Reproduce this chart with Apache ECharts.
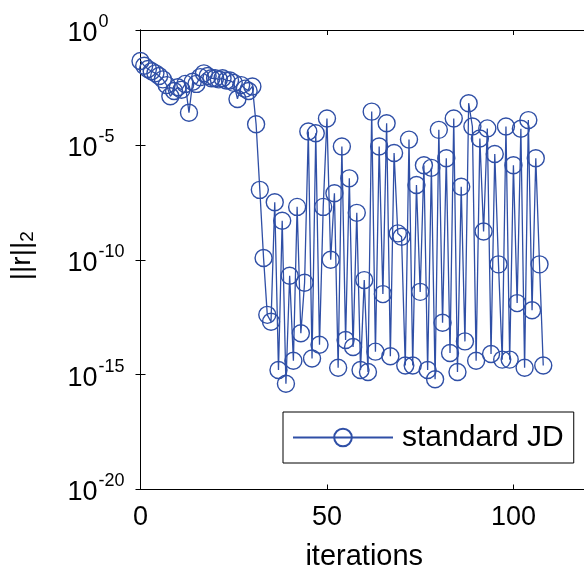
<!DOCTYPE html>
<html>
<head>
<meta charset="utf-8">
<script src="https://cdn.jsdelivr.net/npm/echarts@6/dist/echarts.min.js"></script>
<style>
html,body{margin:0;padding:0;background:#fff;}
#chart{width:584px;height:569px;}
</style>
</head>
<body>
<div id="chart"></div>
<script>
// iteration index
var iterations = [];
for (var k = 0; k <= 108; k++) iterations.push(k);
// residual norm ||r||_2 per iteration
var residual = [
  4.5e-2, 2.8e-2, 2.0e-2, 1.6e-2, 1.3e-2, 1.0e-2, 7.1e-3, 4.0e-3, 1.3e-3, 2.2e-3,
  3.2e-3, 2.5e-3, 4.5e-3, 2.5e-4, 5.6e-3, 4.5e-3, 8.9e-3, 1.3e-2, 1.0e-2, 7.9e-3,
  7.9e-3, 7.1e-3, 7.9e-3, 6.3e-3, 6.3e-3, 5.0e-3, 1.0e-3, 4.0e-3, 2.8e-3, 2.2e-3,
  3.5e-3, 7.9e-5, 1.1e-7, 1.2e-10, 4.0e-13, 2.0e-13, 3.2e-8, 1.6e-15, 5.0e-9, 4.0e-16,
  2.0e-11, 4.0e-15, 2.0e-8, 6.3e-14, 1.0e-11, 3.8e-5, 5.0e-15, 3.2e-5, 2.0e-14, 2.0e-8,
  1.4e-4, 1.0e-10, 7.9e-8, 2.0e-15, 8.5e-6, 3.2e-14, 3.5e-7, 1.6e-14, 1.1e-8, 1.6e-15,
  1.3e-11, 1.3e-15, 2.8e-4, 1.0e-14, 8.5e-6, 3.2e-12, 8.7e-5, 6.3e-15, 4.4e-6, 1.4e-9,
  1.0e-9, 2.5e-15, 1.7e-5, 2.5e-15, 1.8e-7, 4.0e-12, 1.3e-6, 1.6e-15, 1.0e-6, 6.3e-16,
  4.5e-5, 1.8e-13, 2.6e-6, 8.7e-15, 1.4e-4, 1.3e-15, 1.5e-7, 2.8e-14, 6.5e-4, 6.3e-5,
  4.0e-15, 1.9e-5, 1.7e-9, 5.2e-5, 7.9e-15, 4.0e-6, 6.3e-11, 4.5e-15, 6.3e-5, 4.5e-15,
  1.3e-6, 1.3e-12, 5.0e-5, 2.0e-15, 1.2e-4, 6.3e-13, 2.6e-6, 6.3e-11, 2.5e-15
];
var xTicks = [0, 50, 100];
var yTickExponents = [0, -5, -10, -15, -20];
var seriesName = 'standard JD';

var blue = '#2f4fa6';
var fontFam = 'Liberation Sans, Arial, sans-serif';
var data = iterations.map(function (it, i) { return [it, residual[i]]; });

var chart = echarts.init(document.getElementById('chart'), null, {renderer: 'canvas'});
var axisLine = {show: true, lineStyle: {color: '#000', width: 1}};
var yLabelFmt = function (v) {
  var e = Math.round(Math.log10(v));
  if (yTickExponents.indexOf(e) < 0) return '';
  return '{b|10}{s|' + e + '}';
};
chart.setOption({
  animation: false,
  backgroundColor: '#fff',
  grid: {left: 140.5, width: 447.5, top: 30, height: 459.5, containLabel: false, outerBoundsMode: 'none'},
  legend: {
    show: true,
    left: 283, top: 412,
    orient: 'vertical',
    backgroundColor: '#fff',
    borderColor: '#000', borderWidth: 1,
    padding: [10, 10, 10, 9],
    itemWidth: 100, itemHeight: 22,
    itemGap: 0,
    textStyle: {fontSize: 30, fontFamily: fontFam, color: '#000', padding: [0, 0, 0, 4], lineHeight: 31},
    data: [seriesName]
  },
  xAxis: [{
    type: 'value', min: 0, max: 120, interval: 50,
    name: 'iterations', nameLocation: 'middle', nameGap: 53,
    nameTextStyle: {fontSize: 29, fontFamily: fontFam, color: '#000'},
    axisLine: axisLine,
    axisTick: {show: true, inside: true, length: 5, lineStyle: {color: '#000'}},
    axisLabel: {fontSize: 27, fontFamily: fontFam, color: '#000', margin: 15,
      formatter: function (v) { return xTicks.indexOf(v) >= 0 ? String(v) : ''; }},
    splitLine: {show: false}
  }, {
    type: 'value', min: 0, max: 120, interval: 50, position: 'top',
    axisLine: axisLine,
    axisTick: {show: true, inside: true, length: 5, lineStyle: {color: '#000'}},
    axisLabel: {show: false}, splitLine: {show: false}
  }],
  yAxis: [{
    type: 'log', logBase: 100000, min: 1e-20, max: 1,
    name: '{n|||r||}{sub|2}', nameLocation: 'middle', nameGap: 103, nameRotate: 90,
    nameTextStyle: {fontSize: 28, fontFamily: fontFam, color: '#000', padding: [0, 0, 0, 8],
      rich: {n: {fontSize: 28, fontFamily: fontFam, color: '#000'},
             sub: {fontSize: 19, fontFamily: fontFam, color: '#000', verticalAlign: 'bottom', padding: [12, 0, 0, 0]}}},
    axisLine: axisLine,
    axisTick: {show: true, inside: true, length: 5, lineStyle: {color: '#000'}},
    minorTick: {show: false},
    axisLabel: {
      margin: 73, align: 'left',
      formatter: yLabelFmt,
      rich: {
        b: {fontSize: 27, fontFamily: fontFam, color: '#000', verticalAlign: 'bottom', lineHeight: 30, padding: [6, 0, 0, 0]},
        s: {fontSize: 18, fontFamily: fontFam, color: '#000', verticalAlign: 'top', padding: [0, 0, 16, 1]}
      }
    },
    splitLine: {show: false}
  }, {
    type: 'log', logBase: 100000, min: 1e-20, max: 1, position: 'right',
    axisLine: axisLine,
    axisTick: {show: true, inside: true, length: 5, lineStyle: {color: '#000'}},
    axisLabel: {show: false}, splitLine: {show: false}
  }],
  series: [{
    name: seriesName,
    type: 'line',
    data: data,
    xAxisIndex: 0, yAxisIndex: 0,
    symbol: 'circle',
    symbolSize: 17,
    showAllSymbol: true,
    lineStyle: {color: blue, width: 1.3},
    itemStyle: {color: 'rgba(255,255,255,0)', borderColor: blue, borderWidth: 1.4},
    emphasis: {disabled: true},
    clip: false
  }]
});
</script>
</body>
</html>
